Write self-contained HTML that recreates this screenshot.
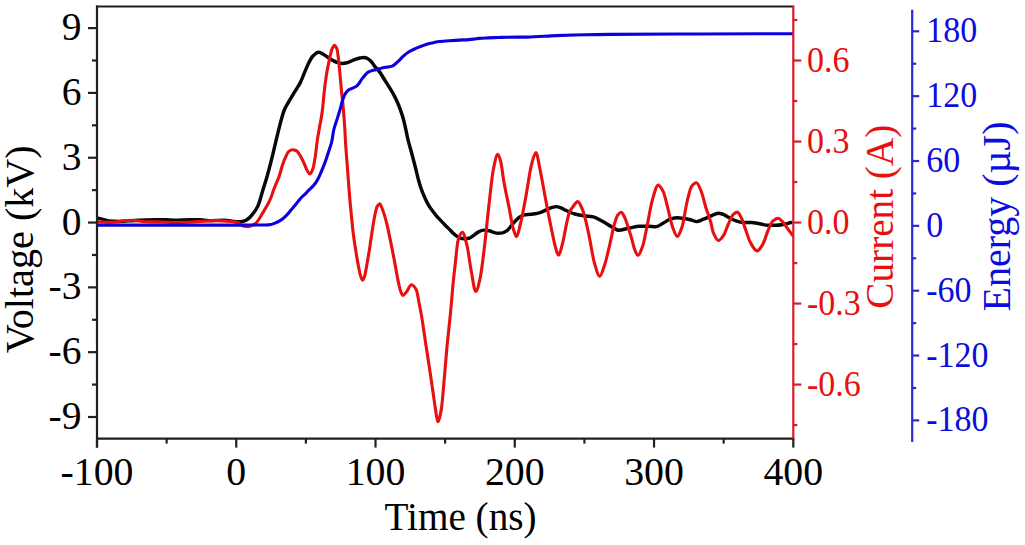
<!DOCTYPE html><html><head><meta charset="utf-8"><style>html,body{margin:0;padding:0;background:#fff;}svg{display:block;}text{font-family:"Liberation Serif",serif;}</style></head><body>
<svg width="1025" height="545" viewBox="0 0 1025 545">
<rect width="1025" height="545" fill="#fff"/>
<defs><clipPath id="c"><rect x="97" y="6.5" width="696.3" height="432.1"/></clipPath></defs>
<g clip-path="url(#c)" fill="none" stroke-linejoin="round" stroke-linecap="round">
<path d="M97.00,217.90 C98.93,218.40 100.87,218.90 102.80,219.40 C104.90,219.94 107.00,220.84 109.10,221.00 C112.20,221.24 115.30,221.40 118.40,221.40 C123.93,221.40 129.47,220.75 135.00,220.50 C141.17,220.22 147.33,219.88 153.50,219.80 C157.43,219.75 161.37,219.70 165.30,219.70 C168.53,219.70 171.77,220.20 175.00,220.20 C180.37,220.20 185.73,219.70 191.10,219.70 C193.97,219.70 196.83,219.70 199.70,219.70 C202.80,219.70 205.90,220.60 209.00,220.60 C214.20,220.60 219.40,220.20 224.60,220.20 C227.07,220.20 229.53,220.96 232.00,221.20 C234.63,221.46 237.27,221.80 239.90,221.80 C241.73,221.80 243.57,221.23 245.40,220.60 C246.70,220.16 248.00,219.03 249.30,217.90 C250.57,216.80 251.83,215.11 253.10,213.50 C254.03,212.31 254.97,211.08 255.90,209.60 C256.60,208.49 257.30,207.36 258.00,205.80 C259.63,202.15 261.27,195.28 262.90,190.00 C264.27,185.58 265.63,181.45 267.00,176.70 C268.23,172.42 269.47,167.71 270.70,162.90 C271.60,159.39 272.50,155.64 273.40,151.90 C274.33,148.02 275.27,143.86 276.20,140.00 C277.87,133.11 279.53,125.95 281.20,120.00 C282.17,116.55 283.13,112.85 284.10,110.50 C285.67,106.68 287.23,104.47 288.80,101.70 C290.87,98.05 292.93,94.83 295.00,91.40 C296.77,88.47 298.53,86.09 300.30,82.60 C301.73,79.77 303.17,75.63 304.60,72.30 C306.00,69.04 307.40,65.51 308.80,62.80 C310.10,60.29 311.40,57.50 312.70,56.20 C314.67,54.24 316.63,52.20 318.60,52.20 C320.30,52.20 322.00,53.57 323.70,54.50 C325.67,55.57 327.63,57.42 329.60,58.60 C331.77,59.90 333.93,61.27 336.10,62.00 C338.10,62.67 340.10,63.50 342.10,63.50 C343.93,63.50 345.77,63.02 347.60,62.60 C350.17,62.01 352.73,60.15 355.30,59.30 C356.87,58.78 358.43,58.27 360.00,58.00 C361.33,57.77 362.67,57.50 364.00,57.50 C365.17,57.50 366.33,58.01 367.50,58.50 C368.57,58.95 369.63,59.96 370.70,61.00 C371.80,62.07 372.90,63.93 374.00,65.30 C375.87,67.62 377.73,69.37 379.60,71.90 C381.40,74.34 383.20,77.64 385.00,80.50 C386.67,83.14 388.33,85.66 390.00,88.40 C391.40,90.70 392.80,92.95 394.20,95.60 C395.30,97.68 396.40,99.99 397.50,102.50 C398.53,104.86 399.57,107.40 400.60,110.30 C401.47,112.73 402.33,115.38 403.20,118.50 C404.00,121.38 404.80,124.97 405.60,128.50 C406.33,131.74 407.07,135.74 407.80,138.80 C409.03,143.95 410.27,147.86 411.50,152.50 C412.77,157.26 414.03,162.01 415.30,167.00 C416.30,170.94 417.30,175.52 418.30,179.20 C419.20,182.51 420.10,185.70 421.00,188.30 C422.23,191.86 423.47,194.78 424.70,197.50 C426.07,200.52 427.43,203.35 428.80,205.60 C430.27,208.02 431.73,209.86 433.20,211.80 C434.40,213.39 435.60,214.91 436.80,216.30 C438.07,217.77 439.33,219.05 440.60,220.40 C442.00,221.89 443.40,223.37 444.80,224.80 C446.17,226.20 447.53,227.53 448.90,228.90 C450.27,230.27 451.63,231.78 453.00,233.00 C454.37,234.22 455.73,235.51 457.10,236.30 C458.77,237.26 460.43,238.35 462.10,238.50 C463.40,238.62 464.70,238.70 466.00,238.70 C467.00,238.70 468.00,238.51 469.00,238.30 C470.40,238.01 471.80,236.71 473.20,235.80 C474.90,234.69 476.60,232.96 478.30,232.10 C480.03,231.23 481.77,230.10 483.50,230.10 C485.43,230.10 487.37,230.38 489.30,230.70 C490.77,230.95 492.23,232.04 493.70,232.40 C495.17,232.76 496.63,233.20 498.10,233.20 C499.60,233.20 501.10,233.08 502.60,232.90 C504.07,232.73 505.53,231.73 507.00,230.70 C508.47,229.67 509.93,227.22 511.40,225.50 C512.87,223.78 514.33,221.83 515.80,220.40 C517.27,218.97 518.73,217.51 520.20,216.70 C521.67,215.89 523.13,215.14 524.60,214.90 C526.30,214.63 528.00,214.58 529.70,214.40 C531.47,214.21 533.23,214.07 535.00,213.80 C536.67,213.54 538.33,213.11 540.00,212.60 C542.43,211.86 544.87,210.45 547.30,209.40 C548.70,208.79 550.10,207.99 551.50,207.60 C553.17,207.14 554.83,206.60 556.50,206.60 C558.00,206.60 559.50,207.27 561.00,207.80 C562.57,208.36 564.13,209.57 565.70,210.30 C568.77,211.73 571.83,213.19 574.90,214.00 C577.93,214.80 580.97,215.35 584.00,215.80 C587.07,216.26 590.13,216.31 593.20,216.90 C596.27,217.49 599.33,219.67 602.40,221.30 C605.47,222.93 608.53,225.03 611.60,226.80 C612.90,227.55 614.20,228.30 615.50,229.00 C616.33,229.45 617.17,230.30 618.00,230.30 C621.83,230.30 625.67,228.72 629.50,228.00 C632.70,227.40 635.90,226.30 639.10,226.30 C642.27,226.30 645.43,226.30 648.60,226.30 C651.00,226.30 653.40,226.80 655.80,226.80 C658.20,226.80 660.60,224.47 663.00,223.20 C665.37,221.95 667.73,219.88 670.10,219.20 C672.50,218.51 674.90,217.80 677.30,217.80 C679.67,217.80 682.03,218.18 684.40,218.50 C686.80,218.83 689.20,219.47 691.60,220.10 C693.20,220.52 694.80,221.60 696.40,221.60 C698.77,221.60 701.13,220.10 703.50,219.20 C705.90,218.29 708.30,217.05 710.70,216.10 C713.23,215.09 715.77,213.30 718.30,213.30 C719.93,213.30 721.57,213.81 723.20,214.30 C724.87,214.80 726.53,216.22 728.20,217.10 C730.40,218.27 732.60,219.65 734.80,220.40 C737.53,221.34 740.27,222.50 743.00,222.50 C745.77,222.50 748.53,222.50 751.30,222.50 C754.03,222.50 756.77,223.25 759.50,223.70 C762.27,224.16 765.03,225.30 767.80,225.30 C770.53,225.30 773.27,225.30 776.00,225.30 C778.77,225.30 781.53,224.69 784.30,224.20 C786.50,223.81 788.70,223.07 790.90,222.50" stroke="#080808" stroke-width="3.45"/>
<path d="M97.00,221.80 C101.53,221.97 106.07,222.30 110.60,222.30 C117.63,222.30 124.67,220.20 131.70,220.20 C136.37,220.20 141.03,221.69 145.70,221.80 C150.93,221.92 156.17,221.90 161.40,222.00 C165.93,222.09 170.47,222.50 175.00,222.50 C178.53,222.50 182.07,222.39 185.60,222.30 C196.00,222.03 206.40,220.60 216.80,220.60 C220.70,220.60 224.60,220.89 228.50,221.20 C231.63,221.45 234.77,221.95 237.90,222.80 C239.93,223.35 241.97,225.90 244.00,226.20 C245.50,226.42 247.00,226.60 248.50,226.60 C250.00,226.60 251.50,225.69 253.00,225.00 C253.97,224.55 254.93,224.01 255.90,223.20 C257.00,222.28 258.10,220.43 259.20,218.80 C260.30,217.17 261.40,215.13 262.50,213.30 C263.60,211.47 264.70,209.70 265.80,207.80 C266.60,206.42 267.40,205.05 268.20,203.50 C269.07,201.82 269.93,200.12 270.80,198.00 C271.67,195.88 272.53,192.82 273.40,190.50 C274.33,188.00 275.27,185.80 276.20,183.50 C277.13,181.20 278.07,179.30 279.00,176.70 C280.20,173.36 281.40,168.31 282.60,164.80 C283.53,162.07 284.47,159.36 285.40,157.40 C286.60,154.88 287.80,152.01 289.00,151.20 C290.10,150.46 291.20,149.80 292.30,149.80 C293.53,149.80 294.77,150.10 296.00,150.50 C297.33,150.93 298.67,153.40 300.00,155.40 C301.37,157.46 302.73,160.51 304.10,163.40 C305.13,165.59 306.17,168.84 307.20,170.50 C308.13,172.00 309.07,174.00 310.00,174.00 C311.00,174.00 312.00,171.28 313.00,168.50 C313.77,166.37 314.53,161.31 315.30,156.40 C315.97,152.13 316.63,144.72 317.30,140.20 C318.00,135.46 318.70,132.08 319.40,128.00 C320.37,122.36 321.33,118.28 322.30,111.00 C322.93,106.23 323.57,97.42 324.20,92.00 C325.10,84.29 326.00,77.42 326.90,72.10 C327.83,66.58 328.77,62.38 329.70,58.30 C330.47,54.95 331.23,50.97 332.00,49.20 C332.80,47.35 333.60,45.30 334.40,45.30 C335.27,45.30 336.13,46.95 337.00,49.20 C337.47,50.41 337.93,54.64 338.40,58.30 C338.87,61.96 339.33,67.22 339.80,72.10 C340.33,77.68 340.87,84.47 341.40,90.00 C342.03,96.57 342.67,101.13 343.30,108.30 C343.83,114.34 344.37,121.08 344.90,130.00 C345.07,132.79 345.23,137.19 345.40,140.00 C346.13,152.38 346.87,160.22 347.60,170.00 C348.37,180.22 349.13,191.23 349.90,200.00 C350.43,206.10 350.97,211.17 351.50,216.50 C352.07,222.17 352.63,228.39 353.20,233.00 C354.00,239.50 354.80,244.39 355.60,249.50 C356.43,254.82 357.27,260.07 358.10,264.40 C358.93,268.73 359.77,273.56 360.60,275.90 C361.30,277.86 362.00,280.20 362.70,280.20 C363.37,280.20 364.03,277.91 364.70,275.90 C365.53,273.39 366.37,267.35 367.20,262.70 C368.03,258.05 368.87,253.20 369.70,247.90 C370.50,242.81 371.30,236.51 372.10,231.40 C372.93,226.08 373.77,220.47 374.60,216.50 C375.43,212.53 376.27,208.06 377.10,206.60 C377.93,205.14 378.77,203.80 379.60,203.80 C380.57,203.80 381.53,207.16 382.50,209.50 C383.83,212.72 385.17,217.43 386.50,222.50 C387.73,227.19 388.97,233.49 390.20,239.40 C391.53,245.79 392.87,252.63 394.20,259.60 C395.57,266.74 396.93,275.60 398.30,281.80 C399.07,285.28 399.83,288.93 400.60,291.00 C401.33,292.98 402.07,295.50 402.80,295.50 C404.00,295.50 405.20,293.38 406.40,292.00 C408.07,290.09 409.73,284.80 411.40,284.80 C413.07,284.80 414.73,286.90 416.40,290.00 C417.13,291.37 417.87,296.84 418.60,300.50 C419.57,305.32 420.53,310.09 421.50,315.70 C422.80,323.25 424.10,332.85 425.40,341.40 C426.70,349.95 428.00,358.34 429.30,367.00 C430.57,375.44 431.83,384.03 433.10,392.70 C433.93,398.41 434.77,404.98 435.60,410.00 C436.33,414.42 437.07,421.80 437.80,421.80 C438.97,421.80 440.13,415.67 441.30,409.40 C442.20,404.56 443.10,391.65 444.00,381.80 C444.93,371.59 445.87,358.77 446.80,348.80 C447.93,336.70 449.07,327.31 450.20,315.80 C450.70,310.72 451.20,305.64 451.70,300.00 C452.10,295.49 452.50,289.76 452.90,285.50 C453.70,276.97 454.50,270.14 455.30,263.20 C456.27,254.81 457.23,242.58 458.20,239.70 C459.60,235.53 461.00,232.40 462.40,232.40 C463.93,232.40 465.47,239.63 467.00,245.60 C468.47,251.31 469.93,264.52 471.40,272.00 C472.87,279.48 474.33,291.50 475.80,291.50 C477.27,291.50 478.73,284.21 480.20,277.80 C481.67,271.39 483.13,257.64 484.60,245.60 C486.07,233.56 487.53,217.14 489.00,204.50 C490.47,191.86 491.93,176.34 493.40,169.30 C494.87,162.26 496.33,154.20 497.80,154.20 C498.73,154.20 499.67,157.77 500.60,161.00 C501.70,164.81 502.80,175.52 503.90,181.70 C505.73,192.00 507.57,199.93 509.40,209.20 C510.60,215.27 511.80,223.50 513.00,227.60 C514.17,231.59 515.33,236.60 516.50,236.60 C517.80,236.60 519.10,229.05 520.40,224.00 C522.23,216.88 524.07,206.16 525.90,196.40 C527.73,186.64 529.57,172.13 531.40,165.20 C532.87,159.66 534.33,152.50 535.80,152.50 C537.33,152.50 538.87,164.23 540.40,171.40 C541.50,176.54 542.60,183.12 543.70,189.00 C544.80,194.88 545.90,201.00 547.00,206.70 C548.47,214.30 549.93,221.75 551.40,228.70 C552.87,235.65 554.33,243.87 555.80,248.50 C556.70,251.34 557.60,255.30 558.50,255.30 C559.80,255.30 561.10,248.77 562.40,244.10 C563.90,238.71 565.40,228.53 566.90,222.10 C567.77,218.39 568.63,213.93 569.50,212.00 C570.50,209.78 571.50,208.70 572.50,207.40 C574.27,205.11 576.03,201.60 577.80,201.60 C579.47,201.60 581.13,206.38 582.80,210.40 C584.77,215.14 586.73,225.04 588.70,233.80 C590.63,242.41 592.57,256.77 594.50,263.20 C596.23,268.97 597.97,276.20 599.70,276.20 C601.40,276.20 603.10,269.30 604.80,264.30 C606.47,259.40 608.13,251.44 609.80,244.50 C611.43,237.70 613.07,228.21 614.70,223.00 C615.73,219.71 616.77,216.24 617.80,215.00 C618.97,213.60 620.13,212.30 621.30,212.30 C622.37,212.30 623.43,214.96 624.50,217.00 C625.63,219.17 626.77,223.03 627.90,226.40 C629.10,229.97 630.30,233.88 631.50,238.00 C632.50,241.44 633.50,246.47 634.50,249.00 C635.63,251.87 636.77,255.50 637.90,255.50 C639.50,255.50 641.10,250.36 642.70,245.90 C644.27,241.53 645.83,231.85 647.40,224.40 C649.00,216.79 650.60,206.10 652.20,200.60 C654.20,193.73 656.20,185.10 658.20,185.10 C659.80,185.10 661.40,188.07 663.00,191.00 C664.57,193.87 666.13,201.82 667.70,207.70 C669.30,213.71 670.90,222.54 672.50,226.80 C674.10,231.06 675.70,236.40 677.30,236.40 C678.90,236.40 680.50,231.39 682.10,226.80 C683.67,222.30 685.23,209.47 686.80,203.00 C688.40,196.40 690.00,188.27 691.60,186.30 C693.20,184.33 694.80,182.70 696.40,182.70 C697.97,182.70 699.53,187.33 701.10,191.00 C702.70,194.74 704.30,202.56 705.90,207.70 C707.50,212.84 709.10,216.38 710.70,222.00 C711.57,225.04 712.43,230.69 713.30,232.70 C715.03,236.72 716.77,240.50 718.50,240.50 C720.07,240.50 721.63,238.11 723.20,236.00 C724.87,233.76 726.53,228.08 728.20,224.50 C729.83,220.99 731.47,216.11 733.10,214.60 C734.47,213.34 735.83,212.10 737.20,212.10 C738.60,212.10 740.00,215.31 741.40,217.90 C742.77,220.43 744.13,225.67 745.50,229.40 C747.17,233.95 748.83,239.83 750.50,242.70 C752.70,246.49 754.90,250.90 757.10,250.90 C759.00,250.90 760.90,247.38 762.80,244.30 C764.47,241.59 766.13,234.91 767.80,231.10 C769.43,227.36 771.07,222.66 772.70,221.20 C774.47,219.63 776.23,218.20 778.00,218.20 C779.83,218.20 781.67,220.85 783.50,222.80 C784.87,224.25 786.23,226.73 787.60,228.60 C789.27,230.88 790.93,233.00 792.60,235.20" stroke="#e8100f" stroke-width="3.1"/>
<path d="M97.00,225.10 C114.67,225.10 132.33,225.10 150.00,225.10 C166.67,225.10 183.33,225.10 200.00,225.10 C213.33,225.10 226.67,225.10 240.00,225.10 C247.33,225.10 254.67,225.00 262.00,225.00 C263.33,225.00 264.67,225.00 266.00,225.00 C267.67,225.00 269.33,224.76 271.00,224.50 C272.33,224.29 273.67,223.64 275.00,223.10 C276.83,222.36 278.67,221.53 280.50,220.40 C282.33,219.27 284.17,217.58 286.00,215.80 C287.83,214.02 289.67,211.56 291.50,209.40 C293.03,207.59 294.57,205.75 296.10,203.90 C297.63,202.05 299.17,199.96 300.70,198.30 C302.23,196.64 303.77,195.32 305.30,193.80 C306.83,192.28 308.37,190.76 309.90,189.20 C311.10,187.98 312.30,186.89 313.50,185.50 C314.43,184.42 315.37,183.21 316.30,181.80 C317.07,180.64 317.83,179.30 318.60,177.80 C319.33,176.37 320.07,174.62 320.80,172.90 C322.27,169.47 323.73,165.92 325.20,161.90 C326.30,158.89 327.40,155.42 328.50,152.00 C329.63,148.47 330.77,145.95 331.90,141.00 C332.50,138.38 333.10,132.61 333.70,130.00 C334.80,125.22 335.90,122.93 337.00,119.40 C338.00,116.19 339.00,113.25 340.00,109.80 C340.83,106.93 341.67,102.92 342.50,100.50 C343.53,97.50 344.57,94.67 345.60,93.20 C346.87,91.40 348.13,90.10 349.40,89.40 C350.33,88.88 351.27,88.70 352.20,88.30 C353.60,87.70 355.00,87.26 356.40,86.30 C358.27,85.02 360.13,81.29 362.00,78.90 C362.93,77.70 363.87,76.46 364.80,75.40 C365.70,74.38 366.60,73.18 367.50,72.60 C368.73,71.80 369.97,71.31 371.20,70.90 C372.73,70.38 374.27,70.10 375.80,69.70 C377.30,69.30 378.80,68.90 380.30,68.50 C381.53,68.17 382.77,67.70 384.00,67.50 C385.17,67.31 386.33,67.27 387.50,67.10 C389.03,66.87 390.57,66.61 392.10,66.10 C393.93,65.49 395.77,63.49 397.60,61.90 C399.43,60.31 401.27,58.03 403.10,56.40 C404.93,54.77 406.77,53.14 408.60,52.00 C410.80,50.64 413.00,49.69 415.20,48.70 C417.40,47.71 419.60,46.83 421.80,46.00 C424.00,45.17 426.20,44.28 428.40,43.70 C429.60,43.38 430.80,43.17 432.00,42.90 C433.00,42.67 434.00,42.38 435.00,42.20 C436.60,41.91 438.20,41.67 439.80,41.50 C443.03,41.15 446.27,40.93 449.50,40.70 C452.77,40.47 456.03,40.28 459.30,40.10 C462.53,39.92 465.77,39.83 469.00,39.60 C470.63,39.48 472.27,39.29 473.90,39.10 C475.53,38.91 477.17,38.53 478.80,38.40 C482.03,38.14 485.27,38.05 488.50,37.90 C491.77,37.75 495.03,37.61 498.30,37.50 C501.53,37.39 504.77,37.23 508.00,37.20 C514.37,37.14 520.73,37.16 527.10,37.10 C536.83,37.01 546.57,35.95 556.30,35.60 C566.07,35.25 575.83,35.00 585.60,34.80 C593.73,34.63 601.87,34.46 610.00,34.40 C640.00,34.16 670.00,34.11 700.00,34.00 C731.00,33.88 762.00,33.80 793.00,33.70" stroke="#0c00dc" stroke-width="3.1"/>
</g>
<line x1="97.00" y1="5.50" x2="97.00" y2="447.60" stroke="#202020" stroke-width="2.2"/>
<line x1="96.00" y1="6.50" x2="793.30" y2="6.50" stroke="#202020" stroke-width="2.2"/>
<line x1="96.00" y1="438.60" x2="794.30" y2="438.60" stroke="#202020" stroke-width="2.2"/>
<line x1="97.00" y1="438.60" x2="97.00" y2="447.60" stroke="#202020" stroke-width="2.2"/>
<line x1="166.63" y1="438.60" x2="166.63" y2="443.60" stroke="#202020" stroke-width="2.2"/>
<line x1="236.26" y1="438.60" x2="236.26" y2="447.60" stroke="#202020" stroke-width="2.2"/>
<line x1="305.89" y1="438.60" x2="305.89" y2="443.60" stroke="#202020" stroke-width="2.2"/>
<line x1="375.52" y1="438.60" x2="375.52" y2="447.60" stroke="#202020" stroke-width="2.2"/>
<line x1="445.15" y1="438.60" x2="445.15" y2="443.60" stroke="#202020" stroke-width="2.2"/>
<line x1="514.78" y1="438.60" x2="514.78" y2="447.60" stroke="#202020" stroke-width="2.2"/>
<line x1="584.41" y1="438.60" x2="584.41" y2="443.60" stroke="#202020" stroke-width="2.2"/>
<line x1="654.04" y1="438.60" x2="654.04" y2="447.60" stroke="#202020" stroke-width="2.2"/>
<line x1="723.67" y1="438.60" x2="723.67" y2="443.60" stroke="#202020" stroke-width="2.2"/>
<line x1="793.30" y1="438.60" x2="793.30" y2="447.60" stroke="#202020" stroke-width="2.2"/>
<line x1="88.00" y1="417.00" x2="97.00" y2="417.00" stroke="#202020" stroke-width="2.2"/>
<line x1="92.00" y1="384.59" x2="97.00" y2="384.59" stroke="#202020" stroke-width="2.2"/>
<line x1="88.00" y1="352.18" x2="97.00" y2="352.18" stroke="#202020" stroke-width="2.2"/>
<line x1="92.00" y1="319.77" x2="97.00" y2="319.77" stroke="#202020" stroke-width="2.2"/>
<line x1="88.00" y1="287.37" x2="97.00" y2="287.37" stroke="#202020" stroke-width="2.2"/>
<line x1="92.00" y1="254.96" x2="97.00" y2="254.96" stroke="#202020" stroke-width="2.2"/>
<line x1="88.00" y1="222.55" x2="97.00" y2="222.55" stroke="#202020" stroke-width="2.2"/>
<line x1="92.00" y1="190.14" x2="97.00" y2="190.14" stroke="#202020" stroke-width="2.2"/>
<line x1="88.00" y1="157.74" x2="97.00" y2="157.74" stroke="#202020" stroke-width="2.2"/>
<line x1="92.00" y1="125.33" x2="97.00" y2="125.33" stroke="#202020" stroke-width="2.2"/>
<line x1="88.00" y1="92.92" x2="97.00" y2="92.92" stroke="#202020" stroke-width="2.2"/>
<line x1="92.00" y1="60.51" x2="97.00" y2="60.51" stroke="#202020" stroke-width="2.2"/>
<line x1="88.00" y1="28.11" x2="97.00" y2="28.11" stroke="#202020" stroke-width="2.2"/>
<line x1="793.30" y1="5.50" x2="793.30" y2="438.60" stroke="#d81c28" stroke-width="2.2"/>
<line x1="793.30" y1="425.10" x2="797.30" y2="425.10" stroke="#d81c28" stroke-width="2.2"/>
<line x1="793.30" y1="384.59" x2="801.30" y2="384.59" stroke="#d81c28" stroke-width="2.2"/>
<line x1="793.30" y1="344.08" x2="797.30" y2="344.08" stroke="#d81c28" stroke-width="2.2"/>
<line x1="793.30" y1="303.57" x2="801.30" y2="303.57" stroke="#d81c28" stroke-width="2.2"/>
<line x1="793.30" y1="263.06" x2="797.30" y2="263.06" stroke="#d81c28" stroke-width="2.2"/>
<line x1="793.30" y1="222.55" x2="801.30" y2="222.55" stroke="#d81c28" stroke-width="2.2"/>
<line x1="793.30" y1="182.04" x2="797.30" y2="182.04" stroke="#d81c28" stroke-width="2.2"/>
<line x1="793.30" y1="141.53" x2="801.30" y2="141.53" stroke="#d81c28" stroke-width="2.2"/>
<line x1="793.30" y1="101.02" x2="797.30" y2="101.02" stroke="#d81c28" stroke-width="2.2"/>
<line x1="793.30" y1="60.51" x2="801.30" y2="60.51" stroke="#d81c28" stroke-width="2.2"/>
<line x1="793.30" y1="20.00" x2="797.30" y2="20.00" stroke="#d81c28" stroke-width="2.2"/>
<line x1="912.20" y1="9.70" x2="912.20" y2="442.00" stroke="#2a2ad0" stroke-width="2.2"/>
<line x1="912.20" y1="420.38" x2="919.20" y2="420.38" stroke="#2a2ad0" stroke-width="2.2"/>
<line x1="912.20" y1="387.96" x2="916.20" y2="387.96" stroke="#2a2ad0" stroke-width="2.2"/>
<line x1="912.20" y1="355.54" x2="919.20" y2="355.54" stroke="#2a2ad0" stroke-width="2.2"/>
<line x1="912.20" y1="323.12" x2="916.20" y2="323.12" stroke="#2a2ad0" stroke-width="2.2"/>
<line x1="912.20" y1="290.69" x2="919.20" y2="290.69" stroke="#2a2ad0" stroke-width="2.2"/>
<line x1="912.20" y1="258.27" x2="916.20" y2="258.27" stroke="#2a2ad0" stroke-width="2.2"/>
<line x1="912.20" y1="225.85" x2="919.20" y2="225.85" stroke="#2a2ad0" stroke-width="2.2"/>
<line x1="912.20" y1="193.43" x2="916.20" y2="193.43" stroke="#2a2ad0" stroke-width="2.2"/>
<line x1="912.20" y1="161.00" x2="919.20" y2="161.00" stroke="#2a2ad0" stroke-width="2.2"/>
<line x1="912.20" y1="128.58" x2="916.20" y2="128.58" stroke="#2a2ad0" stroke-width="2.2"/>
<line x1="912.20" y1="96.16" x2="919.20" y2="96.16" stroke="#2a2ad0" stroke-width="2.2"/>
<line x1="912.20" y1="63.74" x2="916.20" y2="63.74" stroke="#2a2ad0" stroke-width="2.2"/>
<line x1="912.20" y1="31.31" x2="919.20" y2="31.31" stroke="#2a2ad0" stroke-width="2.2"/>
<text transform="translate(81.50,429.00) scale(1,1.03)" font-size="39.5" text-anchor="end" fill="#000">-9</text>
<text transform="translate(81.50,364.18) scale(1,1.03)" font-size="39.5" text-anchor="end" fill="#000">-6</text>
<text transform="translate(81.50,299.37) scale(1,1.03)" font-size="39.5" text-anchor="end" fill="#000">-3</text>
<text transform="translate(81.50,234.55) scale(1,1.03)" font-size="39.5" text-anchor="end" fill="#000">0</text>
<text transform="translate(81.50,169.74) scale(1,1.03)" font-size="39.5" text-anchor="end" fill="#000">3</text>
<text transform="translate(81.50,104.92) scale(1,1.03)" font-size="39.5" text-anchor="end" fill="#000">6</text>
<text transform="translate(81.50,40.11) scale(1,1.03)" font-size="39.5" text-anchor="end" fill="#000">9</text>
<text transform="translate(97.00,485.20) scale(1,1.03)" font-size="39.8" text-anchor="middle" fill="#000">-100</text>
<text transform="translate(236.26,485.20) scale(1,1.03)" font-size="39.8" text-anchor="middle" fill="#000">0</text>
<text transform="translate(375.52,485.20) scale(1,1.03)" font-size="39.8" text-anchor="middle" fill="#000">100</text>
<text transform="translate(514.78,485.20) scale(1,1.03)" font-size="39.8" text-anchor="middle" fill="#000">200</text>
<text transform="translate(654.04,485.20) scale(1,1.03)" font-size="39.8" text-anchor="middle" fill="#000">300</text>
<text transform="translate(793.30,485.20) scale(1,1.03)" font-size="39.8" text-anchor="middle" fill="#000">400</text>
<text transform="translate(807.00,395.59) scale(1,1.07)" font-size="34" text-anchor="start" fill="#e8100f">-0.6</text>
<text transform="translate(807.00,314.57) scale(1,1.07)" font-size="34" text-anchor="start" fill="#e8100f">-0.3</text>
<text transform="translate(807.00,233.55) scale(1,1.07)" font-size="34" text-anchor="start" fill="#e8100f">0.0</text>
<text transform="translate(807.00,152.53) scale(1,1.07)" font-size="34" text-anchor="start" fill="#e8100f">0.3</text>
<text transform="translate(807.00,71.51) scale(1,1.07)" font-size="34" text-anchor="start" fill="#e8100f">0.6</text>
<text transform="translate(926.20,431.38) scale(1,1.07)" font-size="34" text-anchor="start" fill="#0c0cdc">-180</text>
<text transform="translate(926.20,366.54) scale(1,1.07)" font-size="34" text-anchor="start" fill="#0c0cdc">-120</text>
<text transform="translate(926.20,301.69) scale(1,1.07)" font-size="34" text-anchor="start" fill="#0c0cdc">-60</text>
<text transform="translate(926.20,236.85) scale(1,1.07)" font-size="34" text-anchor="start" fill="#0c0cdc">0</text>
<text transform="translate(926.20,172.00) scale(1,1.07)" font-size="34" text-anchor="start" fill="#0c0cdc">60</text>
<text transform="translate(926.20,107.16) scale(1,1.07)" font-size="34" text-anchor="start" fill="#0c0cdc">120</text>
<text transform="translate(926.20,42.31) scale(1,1.07)" font-size="34" text-anchor="start" fill="#0c0cdc">180</text>
<text transform="translate(460.50,530.40) scale(1,1.02)" font-size="39.2" text-anchor="middle" fill="#000">Time (ns)</text>
<text transform="translate(33.30,249.20) rotate(-90) scale(1.025,1)" font-size="39.2" text-anchor="middle" fill="#000">Voltage (kV)</text>
<text transform="translate(893.00,216.70) rotate(-90)" font-size="39.2" text-anchor="middle" fill="#e8100f">Current (A)</text>
<text transform="translate(1009.50,216.50) rotate(-90) scale(1.02,1)" font-size="39.2" text-anchor="middle" fill="#0c0cdc">Energy (µJ)</text>
</svg></body></html>
